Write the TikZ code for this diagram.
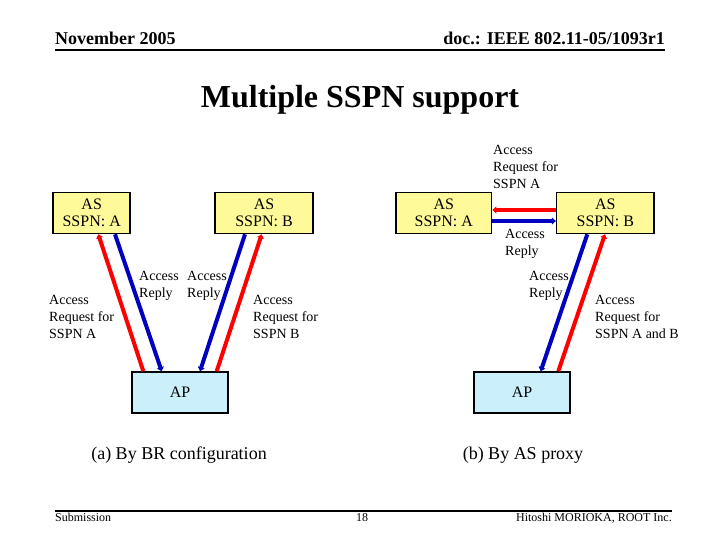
\documentclass[tikz,border=0pt]{standalone}
\usepackage{fontspec}
\setmainfont{Liberation Serif}
\usepackage{tikz}
\usetikzlibrary{arrows.meta}

\tikzset{
  asbox/.style={draw=black,line width=1.6pt,fill=yellow!40,minimum width=96pt,minimum height=41pt,align=center,inner sep=0pt,font=\fontsize{16}{16.5}\selectfont},
  apbox/.style={draw=black,line width=1.6pt,fill=cyan!20,minimum width=96pt,minimum height=41pt,inner sep=0pt,font=\fontsize{16}{16.5}\selectfont},
  req/.style={draw=red,line width=4pt,-{Triangle[length=4pt,width=7pt]}},
  rep/.style={draw=blue!75!black,line width=4pt,-{Triangle[length=4pt,width=7pt]}},
  msg/.style={align=left,anchor=north west,inner sep=0pt,font=\fontsize{14}{17}\selectfont}
}

\begin{document}
\begin{tikzpicture}[x=1pt,y=-1pt]
\useasboundingbox[fill=white] (0,0) rectangle (720,540);

% header and footer
\node[anchor=base west,inner sep=0pt,font=\fontsize{18}{20}\bfseries] (date) at (55,45) {November 2005};
\node[anchor=base east,inner sep=0pt,font=\fontsize{18}{20}\bfseries] (doc) at (665,45) {doc.: IEEE 802.11-05/1093r1};
\draw[line width=2pt] (55,50) -- (665,50);
\node[anchor=base,inner sep=0pt,font=\fontsize{32}{36}\bfseries] (title) at (360,108) {Multiple SSPN support};
\draw[line width=2pt] (55,511) -- (672,511);
\node[anchor=base west,inner sep=0pt,font=\fontsize{12}{14}\selectfont] (sub) at (55,521) {Submission};
\node[anchor=base,inner sep=0pt,font=\fontsize{12}{14}\selectfont] (page) at (362,521) {18};
\node[anchor=base east,inner sep=0pt,font=\fontsize{12}{14}\selectfont] (auth) at (672,521) {Hitoshi MORIOKA, ROOT Inc.};

% (a) by BR configuration
\node[asbox,minimum width=77pt] (asA) at (91.7,213) {AS\\SSPN: A};
\node[asbox,minimum width=98pt] (asB) at (264,213) {AS\\SSPN: B};
\node[apbox] (ap) at (180,392.5) {AP};
\draw[req] ([xshift=-36.7pt]ap.north) -- ([xshift=6.6pt]asA.south);
\draw[rep] ([xshift=23.3pt]asA.south) -- ([xshift=-18.3pt]ap.north);
\draw[rep] ([xshift=-19pt]asB.south) -- ([xshift=20pt]ap.north);
\draw[req] ([xshift=36.7pt]ap.north) -- ([xshift=-2.3pt]asB.south);
\node[msg] (reqA) at (49,295) {Access\\Request for\\SSPN A};
\node[msg] (repA) at (139,271) {Access\\Reply};
\node[msg] (repB) at (187,271) {Access\\Reply};
\node[msg] (reqB) at (253,295) {Access\\Request for\\SSPN B};
\node[anchor=base,inner sep=0pt,font=\fontsize{18}{20}\selectfont] (capa) at (179,459) {(a) By BR configuration};

% (b) by AS proxy
\node[asbox,minimum width=95.7pt] (pasA) at (443.8,213) {AS\\SSPN: A};
\node[asbox,minimum width=97.3pt] (pasB) at (605.3,213) {AS\\SSPN: B};
\node[apbox] (pap) at (522,392.5) {AP};
\draw[req] ([yshift=3pt]pasB.west) -- ([yshift=3pt]pasA.east);
\draw[rep] ([yshift=-8pt]pasA.east) -- ([yshift=-8pt]pasB.west);
\draw[rep] ([xshift=-18pt]pasB.south) -- ([xshift=18.7pt]pap.north);
\draw[req] ([xshift=36.3pt]pap.north) -- ([xshift=-0.3pt]pasB.south);
\node[msg] (preq) at (493,145) {Access\\Request for\\SSPN A};
\node[msg] (prep) at (505,229) {Access\\Reply};
\node[msg] (prep2) at (529,271) {Access\\Reply};
\node[msg] (preqAB) at (595,295) {Access\\Request for\\SSPN A and B};
\node[anchor=base,inner sep=0pt,font=\fontsize{18}{20}\selectfont] (capb) at (523,459) {(b) By AS proxy};
\end{tikzpicture}
\end{document}
